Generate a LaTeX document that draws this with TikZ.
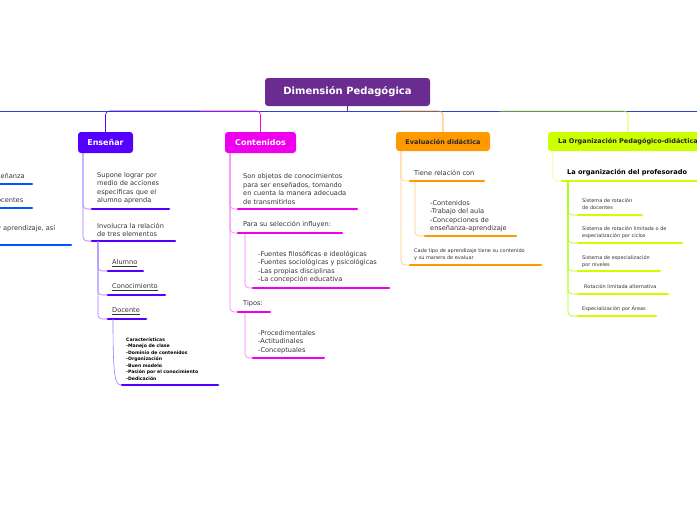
\documentclass[tikz,border=0pt]{standalone}
\usepackage{fontspec}
\setmainfont{DejaVu Sans}
\begin{document}
\begin{tikzpicture}[x=1pt,y=-1pt,
  txt/.style={anchor=west,align=left,inner sep=0pt,font=\fontsize{6.6}{8.4}\selectfont,text=black!80},
  tiny/.style={anchor=west,align=left,inner sep=0pt,font=\fontsize{5}{7}\selectfont,text=black!80},
  ul/.style={line width=2.6pt,line cap=round},
  tr/.style={line width=0.6pt,rounded corners=4pt},
  box/.style={rounded corners=3pt,inner sep=0pt,font=\bfseries\fontsize{8}{10}\selectfont}]
\definecolor{cRoot}{HTML}{6A2C91}
\definecolor{cEn}{HTML}{5500FF}
\definecolor{cEnL}{HTML}{A07BFF}
\definecolor{cCo}{HTML}{EE00EE}
\definecolor{cCoL}{HTML}{F47BF4}
\definecolor{cEv}{HTML}{FF9900}
\definecolor{cEvL}{HTML}{FFCC80}
\definecolor{cOr}{HTML}{CCFF00}
\definecolor{cOrL}{HTML}{E3FF80}
\definecolor{cBl}{HTML}{0055FF}
\useasboundingbox (0,0) rectangle (697,520);
% root
\node[box,fill=cRoot,text=white,minimum width=165pt,minimum height=28pt,font=\bfseries\fontsize{10}{12}\selectfont] (root) at (347.5,92) {Dimensión Pedagógica};
\coordinate (hub) at (347.5,111);
\draw[cRoot,line width=0.8pt] (root.south) -- (hub);
\draw[cBl!60!cRoot,line width=0.8pt] (0,111) -- (697,111);
% branches
\node[box,fill=cEn,text=white,minimum width=55pt,minimum height=21pt] (en) at (105.5,142.5) {Enseñar};
\node[box,fill=cCo,text=white,minimum width=71pt,minimum height=21pt] (co) at (260.5,142.5) {Contenidos};
\node[box,fill=cEv,text=black!85,minimum width=94pt,minimum height=19pt,font=\bfseries\fontsize{6.5}{8}\selectfont] (ev) at (443,141.5) {Evaluación didáctica};
\node[box,fill=cOr,text=black!85,minimum width=160pt,minimum height=19pt,font=\bfseries\fontsize{6.5}{8}\selectfont] (or) at (628,141.5) {La Organización Pedagógico-didáctica};
\draw[cEn,tr] (200,111) -| (en.north);
\draw[cCo,tr] (200,111) -| (co.north);
\draw[cEv,tr] (400,111) -| (ev.north);
\draw[cOr,tr] (500,111) -| (or.north);
% left cut branch
\node[txt] (l1) at (-3,176) {señanza};
\node[txt] (l2) at (-3,200) {ocentes};
\node[txt] (l3) at (-3,229) {y aprendizaje, así};
\draw[cBl,ul] (0,184) -- (32,184);
\draw[cBl,ul] (0,208) -- (32,208);
\draw[cBl,ul] (0,245) -- (71,245);
% Ensenar
\node[txt] (e1) at (97,188) {Supone lograr por\\medio de acciones\\específicas que el\\alumno aprenda};
\node[txt] (e2) at (97,230) {Involucra la relación\\de tres elementos};
\draw[cEnL,tr] (83,153) |- (92,209);
\draw[cEnL,tr] (83,153) |- (92,241);
\draw[cEn,ul] (92,209) -- (169,209);
\draw[cEn,ul] (92,241) -- (175,241);
\node[txt] (a1) at (112,263) {\underline{Alumno}};
\node[txt] (a2) at (112,287) {\underline{Conocimiento}};
\node[txt] (a3) at (112,311) {\underline{Docente}};
\draw[cEnL,tr] (98,241) |- (108,271);
\draw[cEnL,tr] (98,241) |- (108,295);
\draw[cEnL,tr] (98,241) |- (108,319);
\draw[cEn,ul] (108,271) -- (143,271);
\draw[cEn,ul] (108,295) -- (165,295);
\draw[cEn,ul] (108,319) -- (146,319);
\node[anchor=west,align=left,inner sep=0pt,font=\bfseries\fontsize{4.6}{6.5}\selectfont] (car) at (126,359) {Características\\-Manejo de clase\\-Dominio de contenidos\\-Organización\\-Buen modelo\\-Pasión por el conocimiento\\-Dedicación};
\draw[cEnL,line width=0.6pt] (113,319) .. controls (113,380) and (115,385) .. (122,385);
\draw[cEn,ul] (122,385) -- (218,385);
% Contenidos
\node[txt] (c1) at (243,189) {Son objetos de conocimientos\\para ser enseñados, tomando\\en cuenta la manera adecuada\\de transmitirlos};
\node[txt] (c2) at (243,225) {Para su selección influyen:};
\node[txt] (c3) at (258,267) {-Fuentes filosóficas e ideológicas\\-Fuentes sociológicas y psicológicas\\-Las propias disciplinas\\-La concepción educativa};
\node[txt] (c4) at (243,304) {Tipos:};
\node[txt] (c5) at (258,342) {-Procedimentales\\-Actitudinales\\-Conceptuales};
\draw[cCoL,tr] (230,153) |- (238,209);
\draw[cCoL,tr] (230,153) |- (238,233);
\draw[cCoL,tr] (230,153) |- (238,312);
\draw[cCoL,tr] (245,233) |- (253,288);
\draw[cCoL,tr] (245,312) |- (253,358);
\draw[cCo,ul] (238,209) -- (357,209);
\draw[cCo,ul] (238,233) -- (342,233);
\draw[cCo,ul] (253,288) -- (389,288);
\draw[cCo,ul] (238,312) -- (270,312);
\draw[cCo,ul] (253,358) -- (324,358);
% Evaluacion
\node[txt] (v1) at (414,173) {Tiene relación con};
\node[txt] (v2) at (430,216) {-Contenidos\\-Trabajo del aula\\-Concepciones de\\enseñanza-aprendizaje};
\node[tiny] (v3) at (414,254.5) {Cada tipo de aprendizaje tiene su contenido\\y su manera de evaluar};
\draw[cEvL,tr] (401,151) |- (410,181);
\draw[cEvL,tr] (401,151) |- (410,265);
\draw[cEvL,tr] (415,181) |- (425,236);
\draw[cEv,ul] (410,181) -- (484,181);
\draw[cEv,ul] (425,236) -- (516,236);
\draw[cEv,ul] (410,265) -- (541,265);
% Organizacion
\node[anchor=west,inner sep=0pt,font=\bfseries\fontsize{6.6}{8}\selectfont] (o0) at (567,173) {La organización del profesorado};
\draw[cOrL,tr] (553,151) |- (562,181);
\draw[cOr,ul] (562,181) -- (697,181);
\node[tiny] (o1) at (582,204.5) {Sistema de rotación\\de docentes};
\node[tiny] (o2) at (582,232.5) {Sistema de rotación limitada o de\\especialización por ciclos};
\node[tiny] (o3) at (582,261.5) {Sistema de especialización\\por niveles};
\node[tiny] (o4) at (584,287) {Rotación limitada alternativa};
\node[tiny] (o5) at (582,309) {Especialización por Áreas};
\foreach \y/\e in {215/642,243/682,271/660,294/668,316/656}{
  \draw[cOr!80!green,tr] (568,181) |- (578,\y);
  \draw[cOr,ul] (578,\y) -- (\e,\y);
}
\end{tikzpicture}
\end{document}
